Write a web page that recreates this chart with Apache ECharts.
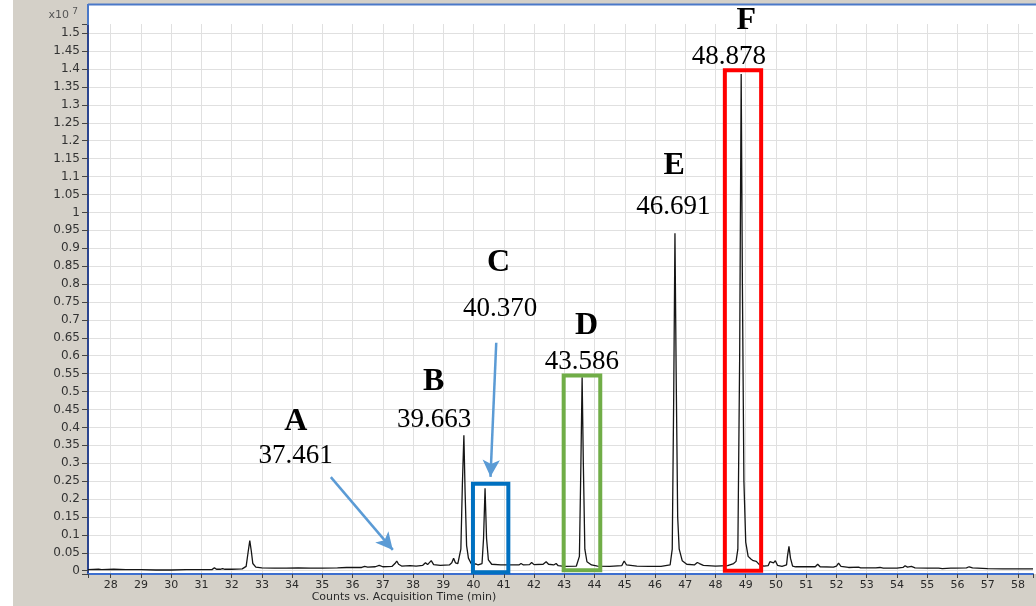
<!DOCTYPE html>
<html><head><meta charset="utf-8">
<script src="https://cdn.jsdelivr.net/npm/echarts@6/dist/echarts.min.js"></script>
<style>html,body{margin:0;padding:0;background:#fff}#c{width:1036px;height:606px}</style>
</head><body><div id="c"></div>
<script>
// Retention time (min) and detector counts (x10^7)
const timeMin = [
 27.25,27.6,27.7,28.1,28.5,29.0,29.5,30.0,30.5,31.0,31.35,31.43,31.5,31.62,31.7,31.78,32.0,32.35,32.48,32.55,32.6,32.65,32.7,32.8,
 33.0,33.4,33.8,34.2,34.6,35.0,35.5,35.8,35.86,35.95,36.3,36.4,36.5,36.75,36.88,37.0,37.3,37.4,37.46,37.52,37.62,37.9,38.1,
 38.32,38.41,38.48,38.53,38.6,38.68,38.9,39.2,39.28,39.34,39.4,39.48,39.58,39.63,39.68,39.72,39.77,39.83,39.92,40.0,40.07,40.15,
 40.28,40.33,40.38,40.43,40.49,40.6,40.9,41.2,41.5,41.57,41.65,41.85,41.92,42.0,42.3,42.4,42.48,42.65,42.73,42.8,43.0,43.4,
 43.5,43.55,43.59,43.63,43.68,43.75,43.9,44.1,44.5,44.9,44.98,45.06,45.4,45.8,46.2,46.5,46.57,46.62,46.66,46.7,46.75,46.8,46.9,
 47.05,47.3,47.4,47.47,47.6,48.0,48.4,48.6,48.68,48.74,48.8,48.85,48.89,48.94,49.0,49.08,49.18,49.25,49.35,49.45,49.6,49.74,
 49.8,49.86,49.92,49.98,50.05,50.2,50.35,50.38,50.43,50.48,50.55,50.65,51.0,51.3,51.38,51.46,51.9,52.0,52.07,52.15,52.4,52.73,
 52.8,53.3,53.44,53.55,54.0,54.2,54.27,54.35,54.48,54.6,55.0,55.38,55.42,55.5,55.78,55.84,55.92,56.3,56.39,56.5,57.0,57.5,58.0,58.5
];
const countsE7 = [
 0.003,0.004,0.003,0.004,0.003,0.003,0.002,0.002,0.003,0.003,0.003,0.008,0.004,0.004,0.006,0.004,0.004,0.005,0.012,0.055,0.084,0.055,0.02,0.01,
 0.008,0.007,0.007,0.008,0.007,0.007,0.008,0.009,0.012,0.009,0.009,0.012,0.01,0.011,0.015,0.011,0.012,0.02,0.027,0.018,0.013,0.014,0.013,
 0.015,0.022,0.017,0.02,0.028,0.017,0.015,0.016,0.022,0.035,0.022,0.02,0.06,0.24,0.378,0.22,0.07,0.035,0.02,0.017,0.019,0.016,
 0.02,0.09,0.23,0.09,0.03,0.018,0.016,0.016,0.016,0.02,0.016,0.017,0.023,0.017,0.018,0.025,0.018,0.016,0.02,0.014,0.012,0.013,
 0.04,0.3,0.54,0.3,0.06,0.025,0.016,0.013,0.012,0.014,0.027,0.016,0.013,0.012,0.012,0.016,0.06,0.5,0.942,0.55,0.15,0.06,0.028,
 0.018,0.016,0.023,0.02,0.015,0.013,0.014,0.02,0.026,0.06,0.6,1.386,0.8,0.25,0.08,0.04,0.032,0.028,0.026,0.017,0.013,0.014,
 0.025,0.02,0.022,0.028,0.015,0.012,0.016,0.04,0.068,0.035,0.013,0.011,0.011,0.011,0.018,0.011,0.01,0.013,0.021,0.012,0.009,0.01,
 0.008,0.008,0.009,0.007,0.007,0.009,0.014,0.01,0.012,0.008,0.007,0.007,0.009,0.006,0.007,0.01,0.007,0.008,0.011,0.008,0.006,0.005,0.005,0.005
];
const peakLetters = ['A','B','C','D','E','F'];
const peakRtText = ['37.461','39.663','40.370','43.586','46.691','48.878'];
const xAxisTitle = 'Counts vs. Acquisition Time (min)';

const chart = echarts.init(document.getElementById('c'), null, {renderer:'canvas'});
const trace = timeMin.map((t,i)=>[t,countsE7[i]]);

// label anchors (data coordinates) for letter and retention-time text
const letterAt = [[34.12,0.416],[38.68,0.527],[40.83,0.860],[43.74,0.684],[46.63,1.130],[49.02,1.535]];
const rtAt = [[34.12,0.320],[38.70,0.421],[40.88,0.732],[43.58,0.582],[46.61,1.014],[48.44,1.435]];
const annData = [];
peakLetters.forEach((l,i)=>{
  annData.push({value:letterAt[i], label:{formatter:l, fontWeight:'bold', fontSize:32}});
  annData.push({value:rtAt[i], label:{formatter:peakRtText[i], fontWeight:'normal', fontSize:27}});
});

const isMult = (v,step)=>Math.abs(v/step - Math.round(v/step))<1e-6;

chart.setOption({
  animation:false,
  backgroundColor:'#d4d0c8',
  grid:{left:88, top:24, right:0, bottom:32, containLabel:false},
  xAxis:{
    type:'value', min:27.25, max:58.5, splitNumber:30, minInterval:1, maxInterval:1,
    axisLine:{show:true, onZero:false, lineStyle:{color:'#3d6fcf', width:2}},
    axisTick:{show:true, length:4, lineStyle:{color:'#444'}},
    axisLabel:{color:'#2a2a2a', fontSize:11, fontFamily:'DejaVu Sans', margin:6,
      formatter:v=>isMult(v,1)?String(Math.round(v)):''},
    splitLine:{show:true, showMinLine:false, showMaxLine:false, lineStyle:{color:'#e0e0e0', width:1}}
  },
  yAxis:{
    type:'value', min:-0.0092, max:1.5258, splitNumber:30, minInterval:0.05, maxInterval:0.05,
    axisLine:{show:true, onZero:false, lineStyle:{color:'#2b4590', width:2}},
    axisTick:{show:true, length:6, lineStyle:{color:'#444'}},
    axisLabel:{color:'#333', fontSize:12, fontFamily:'DejaVu Sans', margin:8,
      formatter:v=>isMult(v,0.05)?String(+v.toFixed(2)):''},
    splitLine:{show:true, showMinLine:false, showMaxLine:false, lineStyle:{color:'#e0e0e0', width:1}}
  },
  graphic:{elements:[
    {type:'rect', z:-10, silent:true, shape:{x:0,y:0,width:13,height:606}, style:{fill:'#ffffff'}},
    {type:'rect', z:-9, silent:true, shape:{x:88,y:4,width:948,height:570}, style:{fill:'#ffffff'}},
    {type:'line', z:5, silent:true, shape:{x1:88,y1:4.5,x2:1036,y2:4.5}, style:{stroke:'#4a78c8', lineWidth:2}},
    {type:'line', z:5, silent:true, shape:{x1:88,y1:4,x2:88,y2:25}, style:{stroke:'#4a78c8', lineWidth:2}},
    {type:'text', z:5, silent:true, x:78, y:15, style:{text:'{a|x10} {b|7}', align:'right', verticalAlign:'middle',
      rich:{a:{fontSize:11, fontFamily:'DejaVu Sans', fill:'#555'}, b:{fontSize:9, fontFamily:'DejaVu Sans', fill:'#555', verticalAlign:'top', padding:[0,0,6,0]}}}},
    {type:'text', z:5, silent:true, x:404, y:597, style:{text:xAxisTitle, align:'center', verticalAlign:'middle',
      fontSize:11, fontFamily:'DejaVu Sans', fill:'#2a2a2a'}}
  ]},
  series:[
    {
      type:'line', data:trace, showSymbol:false, symbol:'none', z:3,
      lineStyle:{color:'#151515', width:1.3},
      markArea:{silent:true, z:4,
        data:[
          [{coord:[39.98,0.243], itemStyle:{color:'rgba(0,0,0,0)', borderColor:'#0070c0', borderWidth:4}},{coord:[41.15,-0.004]}],
          [{coord:[42.98,0.545], itemStyle:{color:'rgba(0,0,0,0)', borderColor:'#70ad47', borderWidth:4}},{coord:[44.19,0.001]}],
          [{coord:[48.31,1.397], itemStyle:{color:'rgba(0,0,0,0)', borderColor:'#ff0000', borderWidth:4}},{coord:[49.51,0.0]}]
        ]},
      markLine:{silent:true, symbol:['none','arrow'], symbolSize:[13,17], animation:false,
        label:{show:false},
        lineStyle:{color:'#5b9bd5', width:2.5, type:'solid'},
        data:[
          [{coord:[35.28,0.261]},{coord:[37.33,0.058]}],
          [{coord:[40.75,0.636]},{coord:[40.56,0.262]}]
        ]}
    },
    {
      type:'scatter', data:annData, symbolSize:1, clip:false, silent:true, z:6,
      itemStyle:{color:'rgba(0,0,0,0)', opacity:1},
      label:{show:true, position:'inside', color:'#000', opacity:1, fontFamily:'Liberation Serif', align:'center', verticalAlign:'middle'}
    }
  ]
});
</script></body></html>
